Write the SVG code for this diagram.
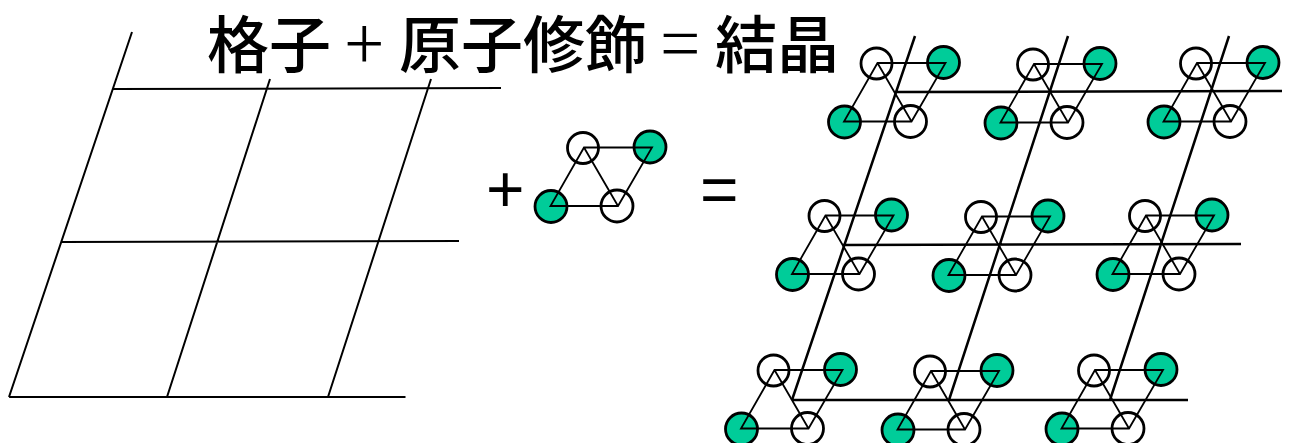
<svg xmlns="http://www.w3.org/2000/svg" width="1289" height="443" viewBox="0 0 1289 443">
<style>
.title{font-family:"Noto Sans CJK JP","Noto Sans CJK SC",sans-serif;font-size:62px;font-weight:500;fill:#000}
.thin{font-size:72px;font-weight:300}
.op{font-family:"Liberation Sans",sans-serif;font-size:66px;fill:#000}
.lat{stroke:#000;stroke-width:2;fill:none}
.lat2{stroke:#000;stroke-width:2.500;fill:none}
.ow{fill:#fff;stroke:#000;stroke-width:2.800}
.gr{fill:#00cc99;stroke:#000;stroke-width:2.800}
.tri{stroke:#000;stroke-width:1.800;fill:none}
</style>
<defs>
<g id="motif">
<circle class="ow" cx="0" cy="0" r="15.5"/>
<circle class="gr" cx="67" cy="-1" r="16"/>
<circle class="gr" cx="-32" cy="58.5" r="16"/>
<circle class="ow" cx="34" cy="58" r="16"/>
<path class="tri" d="M1 -0.5H69L35 58H-32.500ZM1 -0.500L35 58"/>
</g>
</defs>
<g id="title">
<text class="title" x="207" y="68">格子</text>
<text class="title thin" x="345" y="70">+</text>
<text class="title" x="399" y="68">原子修飾</text>
<text class="title thin" x="661" y="70">=</text>
<text class="title" x="715" y="68">結晶</text>
</g>
<g id="connectors">
<path class="lat" d="M9 397H405.500M62 242L459 241M112 89L501 88M9 397L132 32M167 397L270 79M328 397L431 79"/>
<path class="lat2" d="M792 400H1188M843 245L1241 244M895 92L1282 91M792 400L915 36M949 400L1068 36M1110 400L1229 36"/>
</g>
<g id="plus"><text class="op" x="486" y="212">+</text></g>
<g id="equals"><text class="op" x="700" y="212">=</text></g>
<g id="motif-single"><use href="#motif" x="583" y="148"/></g>
<g id="motif-r1c1"><use href="#motif" x="876.500" y="63.500"/></g>
<g id="motif-r1c2"><use href="#motif" x="1033" y="64.500"/></g>
<g id="motif-r1c3"><use href="#motif" x="1196" y="63.500"/></g>
<g id="motif-r2c1"><use href="#motif" x="824.500" y="216"/></g>
<g id="motif-r2c2"><use href="#motif" x="981" y="217"/></g>
<g id="motif-r2c3"><use href="#motif" x="1145" y="216"/></g>
<g id="motif-r3c1"><use href="#motif" x="773.500" y="370.500"/></g>
<g id="motif-r3c2"><use href="#motif" x="930" y="371.500"/></g>
<g id="motif-r3c3"><use href="#motif" x="1094" y="370.500"/></g>
</svg>
